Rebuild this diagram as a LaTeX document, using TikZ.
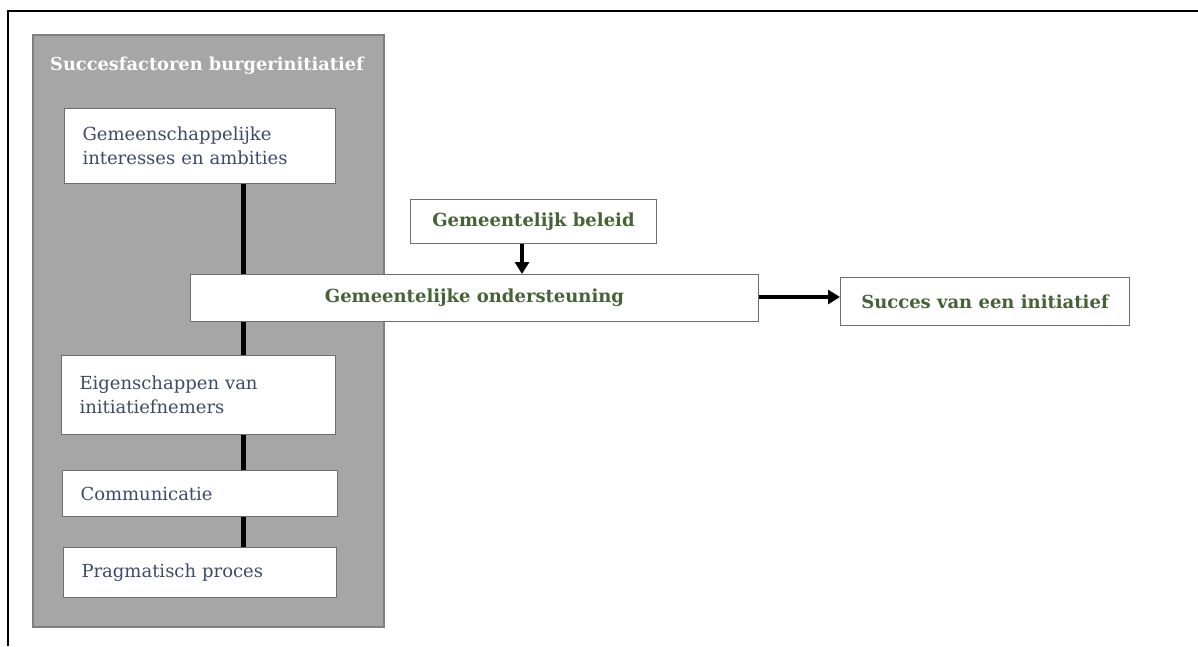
\documentclass[tikz,border=0pt]{standalone}
\usepackage{fontspec}
\setmainfont{DejaVu Serif}
\usetikzlibrary{arrows.meta}
\definecolor{grayfill}{HTML}{A6A6A6}
\definecolor{grayedge}{HTML}{7F7F7F}
\definecolor{boxedge}{HTML}{6E6E6E}
\definecolor{factxt}{HTML}{3E4A68}
\definecolor{govtxt}{HTML}{466237}
\tikzset{
  factor/.style={draw=boxedge, line width=1pt, fill=white, inner xsep=18pt, align=left,
    font=\fontsize{18}{24}\selectfont, text=factxt, anchor=north west},
  gov/.style={draw=boxedge, line width=1pt, fill=white, align=center,
    font=\fontsize{18}{22}\selectfont\bfseries, text=govtxt, anchor=north west},
  link/.style={line width=5pt, black},
  arr/.style={line width=4pt, black, -{Triangle[length=12pt,width=14pt]}}
}
\begin{document}
\begin{tikzpicture}[x=1pt,y=-1pt]
\useasboundingbox (0,0) rectangle (1198,646);
\fill[white] (0,0) rectangle (1198,646);
% outer frame
\draw[line width=2pt] (8,646) -- (8,11) -- (1198,11);
% gray panel
\node[draw=grayedge, line width=1.5pt, fill=grayfill, anchor=north west, minimum width=351pt, minimum height=592pt, inner sep=0pt] (panel) at (32,34) {};
\node[font=\fontsize{17.8}{20}\selectfont\bfseries, text=white] (title) at (207,66) {Succesfactoren burgerinitiatief};
% factor boxes
\node[factor, minimum width=271pt, minimum height=75pt, text width=235pt] (f1) at (64,108) {Gemeenschappelijke\\interesses en ambities};
\node[factor, minimum width=274pt, minimum height=79pt, text width=238pt] (f2) at (61,355) {Eigenschappen van\\initiatiefnemers};
\node[factor, minimum width=275pt, minimum height=46pt, text width=239pt] (f3) at (62,470) {Communicatie};
\node[factor, minimum width=273pt, minimum height=50pt, text width=237pt] (f4) at (63,547) {Pragmatisch proces};
% government boxes
\node[gov, minimum width=568pt, minimum height=47pt] (ond) at (190,274) {Gemeentelijke ondersteuning};
\node[gov, minimum width=246pt, minimum height=44pt] (bel) at (410,199) {Gemeentelijk beleid};
\node[gov, minimum width=289pt, minimum height=48pt] (suc) at (840,277) {Succes van een initiatief};
% connectors
\draw[link] (f1.south -| 243,0) -- (ond.north -| 243,0);
\draw[link] (ond.south -| 243,0) -- (f2.north -| 243,0);
\draw[link] (f2.south -| 243,0) -- (f3.north -| 243,0);
\draw[link] (f3.south -| 243,0) -- (f4.north -| 243,0);
\draw[arr] (bel.south -| 522,0) -- (ond.north -| 522,0);
\draw[arr] (ond.east |- 0,297) -- (suc.west |- 0,297);
\end{tikzpicture}
\end{document}
